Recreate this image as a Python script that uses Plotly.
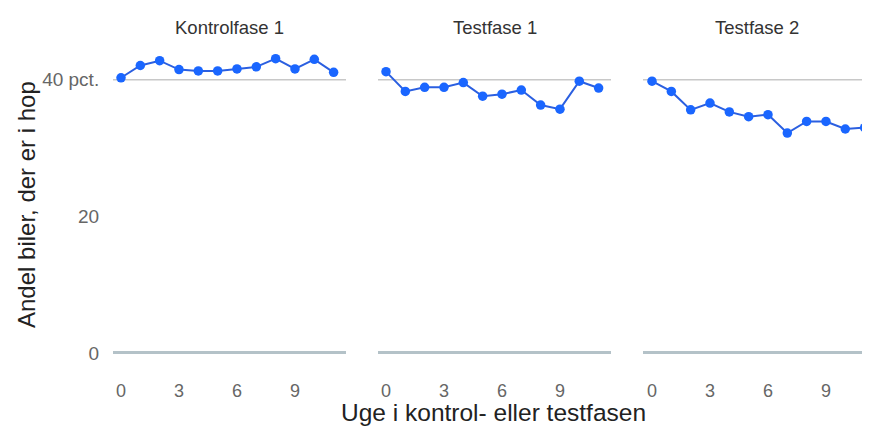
import plotly.graph_objects as go

weeks = list(range(12))
panel_titles = ["Kontrolfase 1", "Testfase 1", "Testfase 2"]
kontrolfase_1 = [40.3, 42.1, 42.8, 41.5, 41.3, 41.3, 41.6, 41.9, 43.1, 41.6, 43.0, 41.1]
testfase_1 = [41.2, 38.3, 38.9, 38.9, 39.6, 37.6, 37.9, 38.5, 36.3, 35.7, 39.8, 38.8]
testfase_2 = [39.8, 38.3, 35.6, 36.6, 35.3, 34.6, 34.9, 32.2, 33.9, 33.9, 32.8, 33.0]
series = [kontrolfase_1, testfase_1, testfase_2]
x_ticks = [0, 3, 6, 9]
y_ticks = [0, 20, 40]
y_tick_labels = ["0", "20", "40 pct."]
grid_values = [40]

OFF = 8  # page body margin
W, H = 870 - OFF, 426 - OFF
L, R, T = 113 - OFF, 0, 45 - OFF
B = H - (365 - OFF)
pw = W - L - R
px_domains = [(113, 346), (378, 611), (643, 870)]
px_per_unit = 19.33
x0_px = [121, 386, 652]

FONT = "Arial, Liberation Sans"

fig = go.Figure()
for i, (vals, title) in enumerate(zip(series, panel_titles)):
    xa = "x" if i == 0 else f"x{i+1}"
    ya = "y" if i == 0 else f"y{i+1}"
    fig.add_trace(go.Scatter(
        x=weeks, y=vals, mode="lines+markers", xaxis=xa, yaxis=ya,
        line=dict(color="#2b5fe0", width=2),
        marker=dict(color="#1a66ff", size=9.5),
        showlegend=False, cliponaxis=False,
    ))
    d0, d1 = px_domains[i]
    lo = (d0 - x0_px[i]) / px_per_unit
    hi = (d1 - x0_px[i]) / px_per_unit
    key = "xaxis" if i == 0 else f"xaxis{i+1}"
    ykey = "yaxis" if i == 0 else f"yaxis{i+1}"
    fig.layout[key] = dict(
        domain=[(d0 - 113) / pw, (d1 - 113) / pw], range=[lo, hi],
        tickvals=x_ticks, showgrid=False, zeroline=False, showline=False,
        ticks="outside", ticklen=9, tickcolor="rgba(0,0,0,0)",
        tickfont=dict(family=FONT, size=18, color="#666666"),
        anchor=ya, fixedrange=True,
    )
    fig.layout[ykey] = dict(
        range=[-1.76, 45.1], tickvals=y_ticks, ticktext=y_tick_labels,
        showticklabels=(i == 0), showgrid=False,
        zeroline=True, zerolinecolor="#b4c2c8", zerolinewidth=2.5,
        showline=False, ticks="outside", ticklen=9, tickcolor="rgba(0,0,0,0)",
        tickfont=dict(family=FONT, size=19, color="#666666"),
        anchor=xa, fixedrange=True,
    )
    for g in grid_values:
        fig.add_shape(type="line", xref=f"{xa} domain", yref=ya, x0=0, x1=1, y0=g, y1=g,
                      line=dict(color="#c8c8c8", width=1.5), layer="below")
    fig.add_annotation(text=title, xref=f"{xa} domain", yref="paper",
                       x=0.5, y=1, yshift=(365 - 27) - (365 - 45), yanchor="middle",
                       showarrow=False,
                       font=dict(family=FONT, size=18.5, color="#333333"))

fig.add_annotation(text="Uge i kontrol- eller testfasen", xref="paper", yref="paper",
                   x=(493 - 113) / pw, y=0, yshift=-(412 - 365), yanchor="middle",
                   showarrow=False,
                   font=dict(family=FONT, size=24.5, color="#222222"))
fig.add_annotation(text="Andel biler, der er i hop", xref="paper", yref="paper",
                   x=0, xshift=-(113 - 26), y=0.5, yshift=0, textangle=-90,
                   xanchor="center", showarrow=False,
                   font=dict(family=FONT, size=24, color="#222222"))

fig.update_layout(
    width=W, height=H, margin=dict(l=L, r=R, t=T, b=B),
    paper_bgcolor="white", plot_bgcolor="white",
)
fig.write_html("out.html")
